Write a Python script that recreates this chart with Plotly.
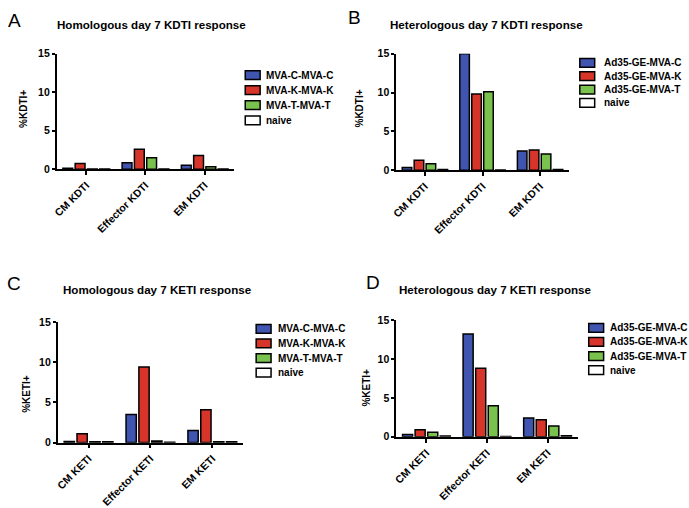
import plotly.graph_objects as go

W, H = 689, 508

series_hom = ["MVA-C-MVA-C", "MVA-K-MVA-K", "MVA-T-MVA-T", "naive"]
series_het = ["Ad35-GE-MVA-C", "Ad35-GE-MVA-K", "Ad35-GE-MVA-T", "naive"]
cats_kdti = ["CM KDTI", "Effector KDTI", "EM KDTI"]
cats_keti = ["CM KETI", "Effector KETI", "EM KETI"]

# values per series, across categories (CM, Effector, EM)
a_vals = [[0.15, 0.85, 0.55], [0.75, 2.6, 1.8], [0.05, 1.5, 0.35], [0.05, 0.05, 0.05]]
b_vals = [[0.35, 15.0, 2.5], [1.3, 9.8, 2.6], [0.85, 10.1, 2.1], [0.1, 0.05, 0.1]]
c_vals = [[0.15, 3.5, 1.5], [1.1, 9.4, 4.1], [0.1, 0.2, 0.1], [0.1, 0.05, 0.1]]
d_vals = [[0.3, 13.2, 2.4], [0.9, 8.8, 2.2], [0.6, 4.0, 1.4], [0.1, 0.05, 0.15]]

colors = ["#4055B0", "#D8352A", "#79C24D", "#FFFFFF"]
y_ticks = [0, 5, 10, 15]

titles = ["Homologous day 7 KDTI response", "Heterologous day 7 KDTI response",
          "Homologous day 7 KETI response", "Heterologous day 7 KETI response"]
letters = ["A", "B", "C", "D"]
ytitles = ["%KDTI+", "%KDTI+", "%KETI+", "%KETI+"]

FONT = "Liberation Sans, Arial, sans-serif"

# panel pixel boxes: x0, x1, ytop(15), ybottom(0)
boxes = [(52, 231, 49, 168), (394, 568, 49, 169), (53, 240, 325, 449), (394, 577, 323, 443)]
title_pos = [(148, 19), (485, 19), (154, 292), (494, 292)]
letter_pos = [(10, 15), (352, 12), (9, 285), (371, 284)]
ytitle_pos = [(18, 106), (357, 105), (21, 399), (364, 392)]
# legend: box left x, first row centre y, row step, text x
legend_geo = [(242, 71, 15.5, 262), (579, 58.5, 13.7, 602), (253, 332, 15, 274), (588, 331, 14.5, 608)]

panels = [(a_vals, series_hom, cats_kdti), (b_vals, series_het, cats_kdti),
          (c_vals, series_hom, cats_keti), (d_vals, series_het, cats_keti)]

fig = go.Figure()
layout = dict(width=W, height=H, margin=dict(l=0, r=0, t=0, b=0),
              paper_bgcolor="white", plot_bgcolor="white",
              barmode="group", bargap=0.17, bargroupgap=0.2,
              showlegend=False, annotations=[], shapes=[])

for i, (vals, names, cats) in enumerate(panels):
    k = i + 1
    xa = "x" if k == 1 else f"x{k}"
    ya = "y" if k == 1 else f"y{k}"
    for s in range(4):
        fig.add_trace(go.Bar(
            x=cats, y=vals[s], name=names[s], xaxis=xa, yaxis=ya,
            marker=dict(color=colors[s], line=dict(color="black", width=1.5)),
        ))
    x0, x1, yt, yb = boxes[i]
    axis_common = dict(showgrid=False, zeroline=False, showline=True, linecolor="black",
                       linewidth=1.5, ticks="outside", ticklen=4, tickwidth=1.5,
                       tickcolor="black",
                       tickfont=dict(family=FONT, size=10.5, color="black", weight="bold"))
    layout["xaxis" if k == 1 else f"xaxis{k}"] = dict(
        axis_common, domain=[x0 / W, x1 / W], anchor=ya, tickangle=-45,
        range=[-0.5, 2.5], type="category")
    layout["yaxis" if k == 1 else f"yaxis{k}"] = dict(
        axis_common, domain=[1 - yb / H, 1 - yt / H], anchor=xa, range=[0, 15],
        tickvals=y_ticks, ticklen=3)
    # y-axis title
    tx, ty = ytitle_pos[i]
    layout["annotations"].append(dict(
        text=ytitles[i], x=tx / W, y=1 - ty / H, xref="paper", yref="paper",
        xanchor="center", yanchor="middle", textangle=-90, showarrow=False,
        font=dict(family=FONT, size=10, color="black", weight="bold")))
    # panel title
    tx, ty = title_pos[i]
    layout["annotations"].append(dict(
        text=titles[i], x=tx / W, y=1 - ty / H, xref="paper", yref="paper",
        xanchor="center", yanchor="middle", showarrow=False,
        font=dict(family=FONT, size=11.6, color="black", weight="bold")))
    # panel letter
    lxp, lyp = letter_pos[i]
    layout["annotations"].append(dict(
        text=letters[i], x=lxp / W, y=1 - lyp / H, xref="paper", yref="paper",
        xanchor="center", yanchor="middle", showarrow=False, borderpad=0,
        font=dict(family=FONT, size=19, color="black")))
    # legend
    bx, by, step, txx = legend_geo[i]
    for s in range(4):
        cy = by + s * step
        layout["shapes"].append(dict(
            type="rect", xref="paper", yref="paper",
            x0=bx / W, x1=(bx + 15) / W, y0=1 - (cy - 4.5) / H, y1=1 - (cy + 4.5) / H,
            fillcolor=colors[s], line=dict(color="black", width=1.5)))
        layout["annotations"].append(dict(
            text=names[s], x=txx / W, y=1 - cy / H, xref="paper", yref="paper",
            xanchor="left", yanchor="middle", showarrow=False, borderpad=0,
            font=dict(family=FONT, size=10, color="black", weight="bold")))

fig.update_layout(**layout)
fig.write_html("out.html", config={"displayModeBar": False},
               post_script="document.body.style.margin='0px';")
